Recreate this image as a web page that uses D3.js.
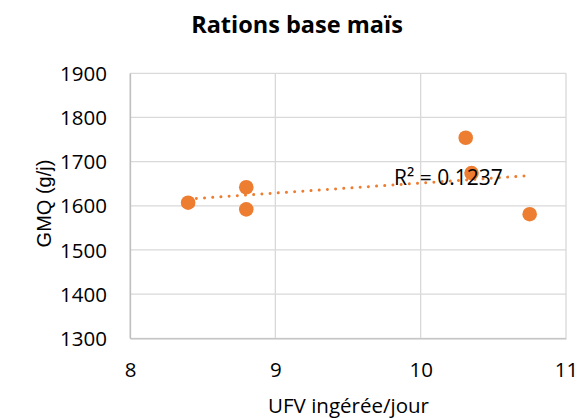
<!DOCTYPE html>
<html>
<head>
<meta charset="utf-8">
<script src="https://cdn.jsdelivr.net/npm/d3@7"></script>
<style>
  body { margin: 0; background: #fff; }
  text { font-family: "Open Sans", "Noto Sans", sans-serif; fill: #000; }
</style>
</head>
<body>
<svg id="chart"></svg>
<script>
// UFV ingérée/jour vs GMQ (g/j)
const ufv = [8.4, 8.8, 8.8, 10.31, 10.35, 10.75];
const gmq = [1607, 1642, 1592, 1754, 1674, 1581];
const xTicks = [8, 9, 10, 11];
const yTicks = [1300, 1400, 1500, 1600, 1700, 1800, 1900];
const r2Label = "R² = 0.1237";

const width = 581, height = 418;
const plotLeft = 130, plotRight = 566, plotTop = 73.3, plotBottom = 338.3;

const svg = d3.select("#chart")
    .attr("width", width)
    .attr("height", height);

const x = d3.scaleLinear().domain([8, 11]).range([plotLeft, plotRight]);
const y = d3.scaleLinear().domain([1300, 1900]).range([plotBottom, plotTop]);

// gridlines
svg.append("g")
    .selectAll("line")
    .data(yTicks)
    .enter().append("line")
    .attr("x1", plotLeft).attr("x2", plotRight)
    .attr("y1", d => y(d)).attr("y2", d => y(d))
    .style("stroke", "#d9d9d9")
    .style("stroke-width", 1.3);

svg.append("g")
    .selectAll("line")
    .data(xTicks)
    .enter().append("line")
    .attr("x1", d => x(d)).attr("x2", d => x(d))
    .attr("y1", plotTop).attr("y2", plotBottom)
    .style("stroke", "#d9d9d9")
    .style("stroke-width", 1.3);

// axes (labels only)
const yAxis = svg.append("g")
    .attr("transform", `translate(${plotLeft},0)`)
    .call(d3.axisLeft(y).tickValues(yTicks).tickSize(0).tickPadding(23).tickFormat(d3.format("d")));
yAxis.select(".domain").style("stroke", "#bfbfbf").style("stroke-width", 1.3);
yAxis.selectAll("text")
    .style("font-family", "'Open Sans', sans-serif")
    .style("font-size", "20.5px")
    .attr("dy", "0.35em");

const xAxis = svg.append("g")
    .attr("transform", `translate(0,${plotBottom})`)
    .call(d3.axisBottom(x).tickValues(xTicks).tickSize(0).tickPadding(0).tickFormat(d3.format("d")));
xAxis.select(".domain").style("stroke", "#bfbfbf").style("stroke-width", 1.3);
xAxis.selectAll("text")
    .style("font-family", "'Open Sans', sans-serif")
    .style("font-size", "20.5px")
    .attr("y", 39)
    .attr("dy", 0);

// linear trendline (least squares)
const mx = d3.mean(ufv), my = d3.mean(gmq);
const sxy = d3.sum(ufv, (v, i) => (v - mx) * (gmq[i] - my));
const sxx = d3.sum(ufv, v => (v - mx) * (v - mx));
const slope = sxy / sxx, intercept = my - slope * mx;
const xr = d3.extent(ufv);

svg.append("line")
    .attr("x1", x(xr[0])).attr("y1", y(intercept + slope * xr[0]))
    .attr("x2", x(xr[1])).attr("y2", y(intercept + slope * xr[1]))
    .style("stroke", "#ed7d31")
    .style("stroke-width", 3)
    .style("stroke-linecap", "round")
    .style("stroke-dasharray", "0.01 8.2");

// points
svg.append("g")
    .selectAll("circle")
    .data(ufv.map((v, i) => [v, gmq[i]]))
    .enter().append("circle")
    .attr("cx", d => x(d[0]))
    .attr("cy", d => y(d[1]))
    .attr("r", 7.3)
    .style("fill", "#ed7d31");

// R² label
svg.append("text")
    .attr("x", 394)
    .attr("y", 185)
    .style("font-size", "21px")
    .text(r2Label);

// title
svg.append("text")
    .attr("x", 297)
    .attr("y", 33.3)
    .attr("text-anchor", "middle")
    .style("font-size", "23.5px")
    .style("font-weight", "bold")
    .text("Rations base maïs");

// axis titles
svg.append("text")
    .attr("x", 348.5)
    .attr("y", 413.3)
    .attr("text-anchor", "middle")
    .style("font-size", "20.5px")
    .text("UFV ingérée/jour");

svg.append("text")
    .attr("transform", "translate(51,203.5) rotate(-90)")
    .attr("text-anchor", "middle")
    .style("font-family", "'Liberation Sans', Arial, sans-serif")
    .style("font-size", "20px")
    .text("GMQ (g/j)");
</script>
</body>
</html>
